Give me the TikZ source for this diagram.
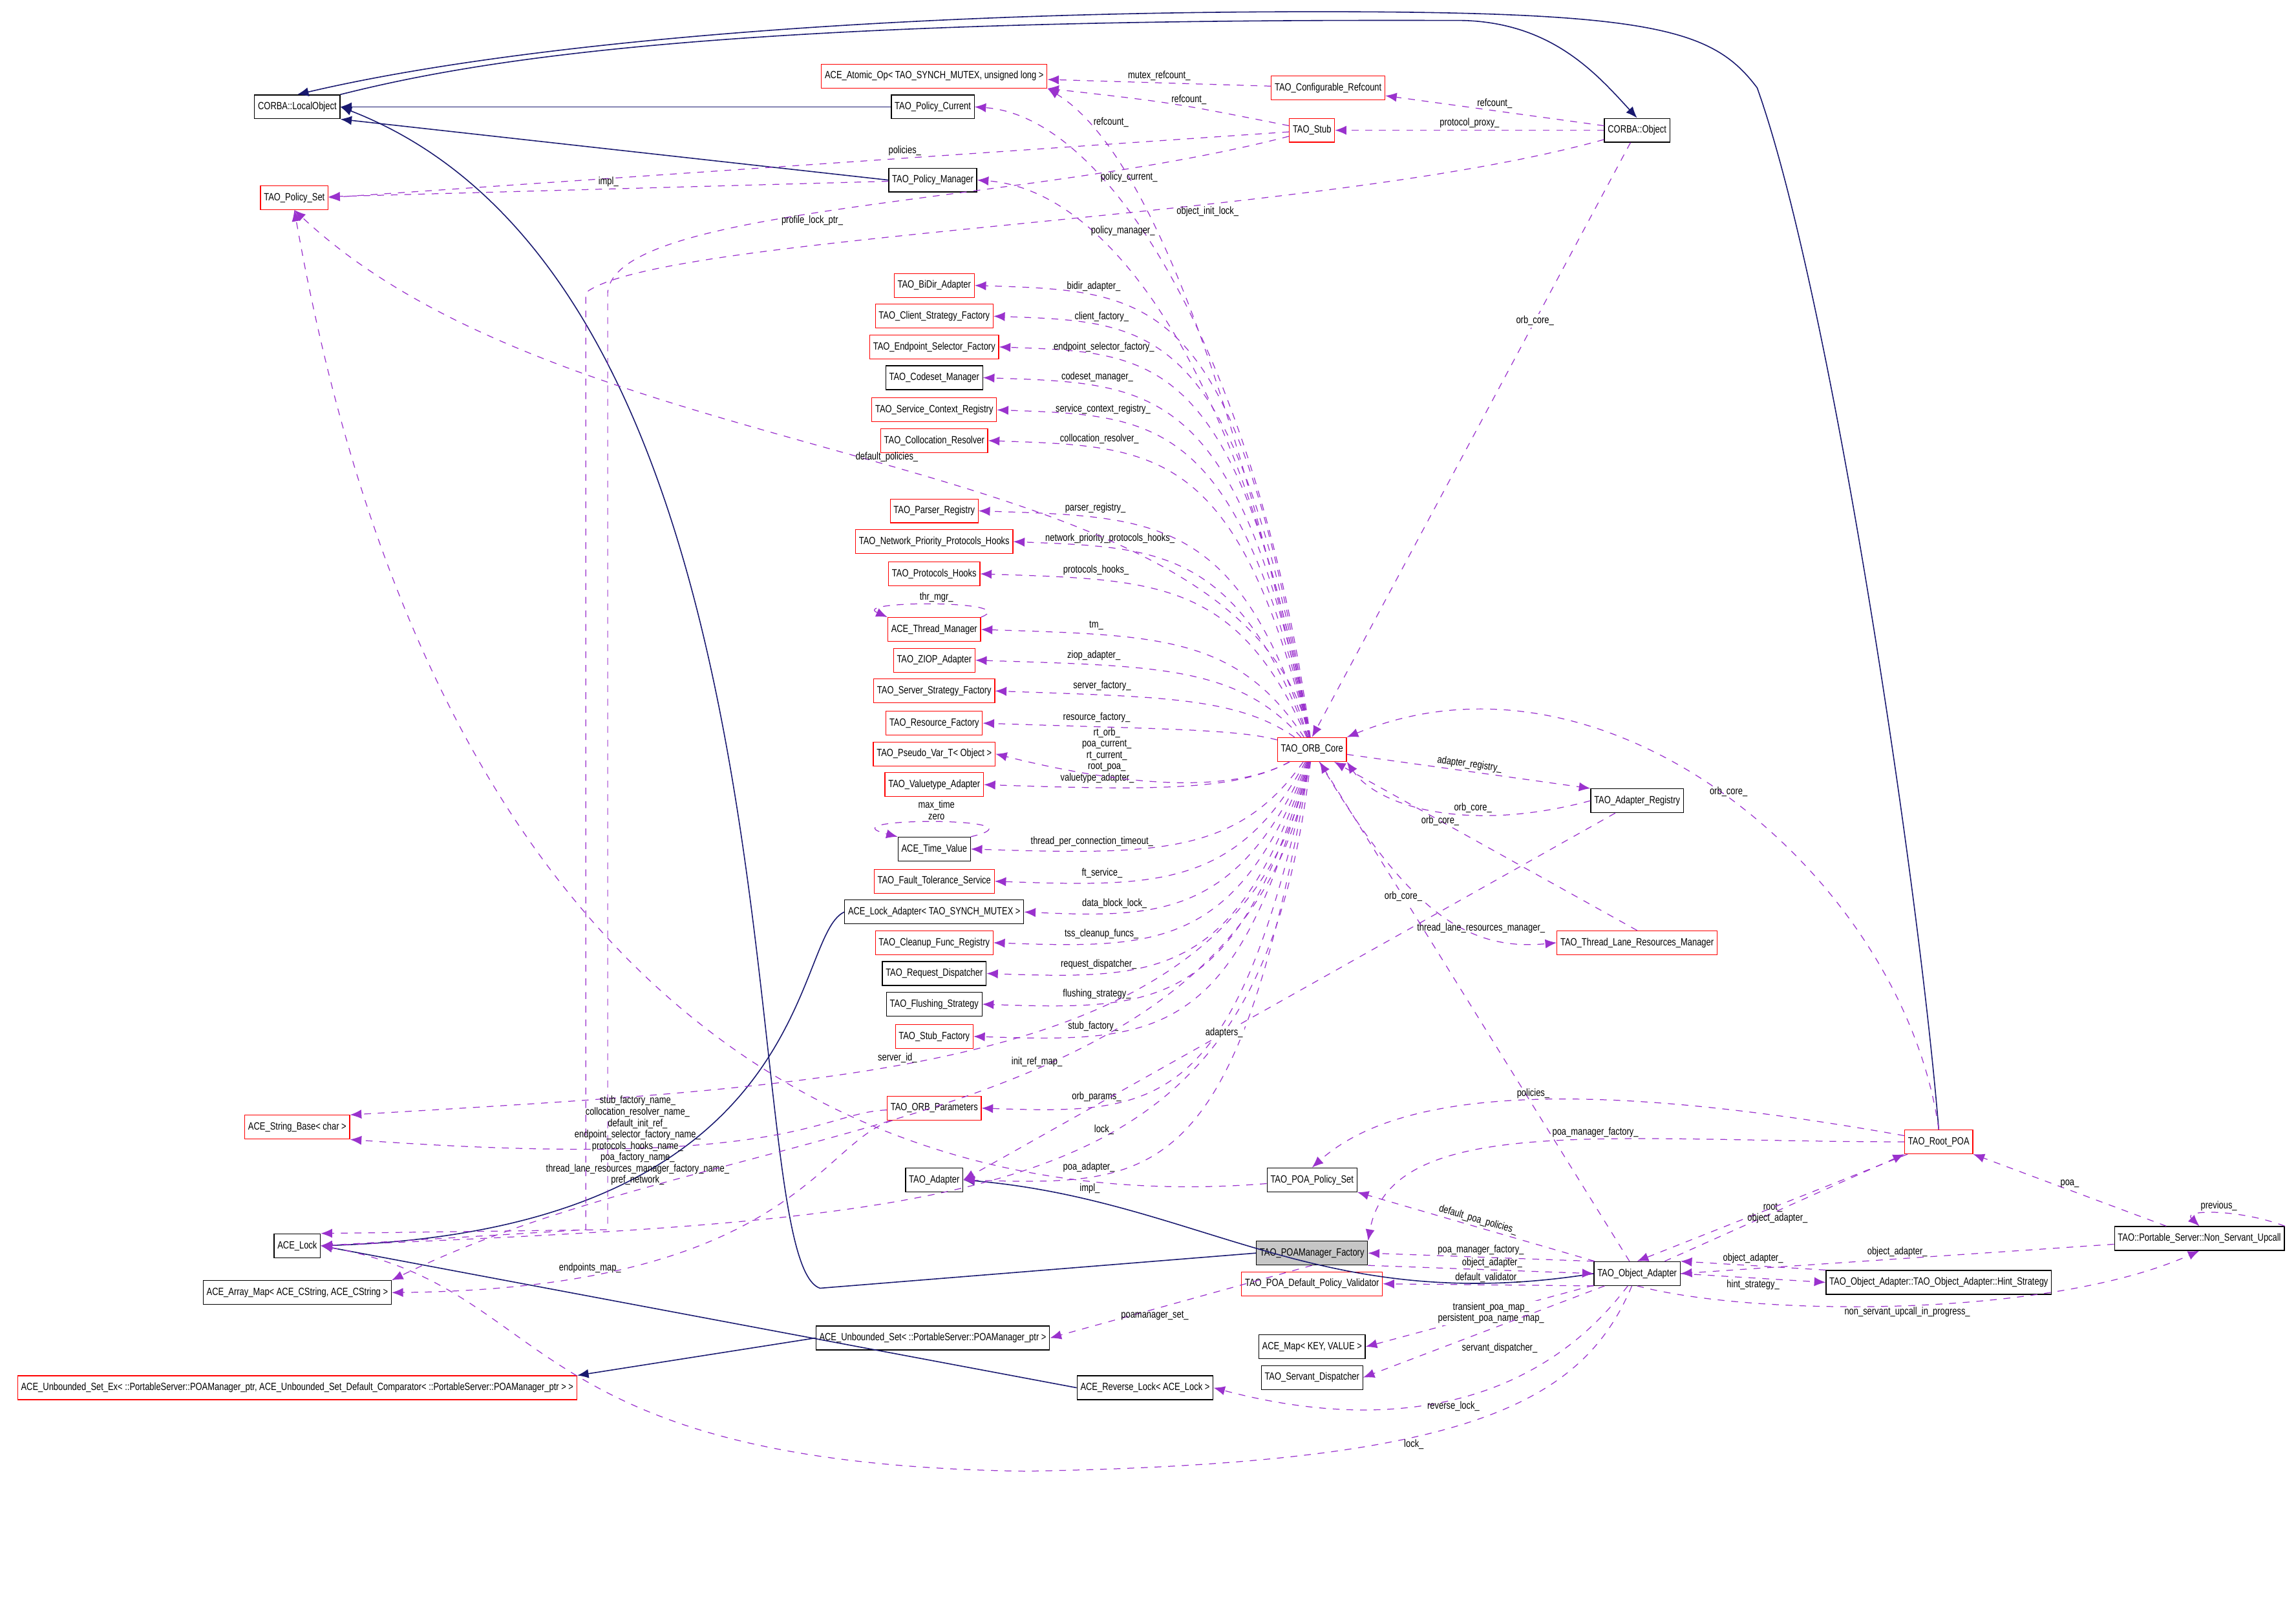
\documentclass[tikz,border=0pt]{standalone}
\usepackage{fontspec}
\setmainfont[FakeStretch=0.8]{Liberation Sans}
\usetikzlibrary{positioning,arrows.meta}
\definecolor{inhcol}{HTML}{191970}
\definecolor{usecol}{HTML}{9A32CD}
\tikzset{
  cls/.style={draw=black, rectangle, fill=white, font=\fontsize{4.6}{5}\selectfont, inner sep=1.5pt, minimum height=10.5, line width=0.35pt},
  rcls/.style={cls, draw=red},
  gcls/.style={cls, fill=gray!45},
  inh/.style={-{Latex[length=5pt,width=4pt]}, inhcol, line width=0.45pt},
  use/.style={-{Latex[length=5pt,width=4pt]}, usecol, dashed, line width=0.35pt},
  lbl/.style={font=\fontsize{4.6}{5}\selectfont, text=black, align=center, inner sep=0.8pt}
}
\begin{document}
\catcode`\_=12
\begin{tikzpicture}[x=0.02265cm, y=-0.02265cm]
\useasboundingbox (0,0) rectangle (1568,1093);
% left column
\node[cls] (localobj) at (203,73) {CORBA::LocalObject};
\node[rcls] (policyset) at (201,135) {TAO_Policy_Set};
\node[rcls] (stringbase) at (203,770) {ACE_String_Base< char >};
\node[cls] (acelock) at (203,851) {ACE_Lock};
\node[cls] (arraymap) at (203,883) {ACE_Array_Map< ACE_CString, ACE_CString >};
\node[rcls] (usetex) at (203,948) {ACE_Unbounded_Set_Ex< ::PortableServer::POAManager_ptr, ACE_Unbounded_Set_Default_Comparator< ::PortableServer::POAManager_ptr > >};
% top
\node[rcls] (atomicop) at (638,52) {ACE_Atomic_Op< TAO_SYNCH_MUTEX, unsigned long >};
\node[rcls] (cfgref) at (907,60) {TAO_Configurable_Refcount};
\node[cls] (policycur) at (637,73) {TAO_Policy_Current};
\node[rcls] (stub) at (896,89) {TAO_Stub};
\node[cls] (corbaobj) at (1118,89) {CORBA::Object};
\node[cls] (policymgr) at (637,123) {TAO_Policy_Manager};
% middle column
\foreach \n/\t/\s/\y in {
  bidir/{TAO_BiDir_Adapter}/rcls/195,
  clientsf/{TAO_Client_Strategy_Factory}/rcls/216,
  endpointsf/{TAO_Endpoint_Selector_Factory}/rcls/237,
  codeset/{TAO_Codeset_Manager}/cls/258,
  servicecr/{TAO_Service_Context_Registry}/rcls/280,
  collres/{TAO_Collocation_Resolver}/rcls/301,
  parserreg/{TAO_Parser_Registry}/rcls/349,
  netprio/{TAO_Network_Priority_Protocols_Hooks}/rcls/370,
  prothooks/{TAO_Protocols_Hooks}/rcls/392,
  thrmgr/{ACE_Thread_Manager}/rcls/430,
  ziop/{TAO_ZIOP_Adapter}/rcls/451,
  serversf/{TAO_Server_Strategy_Factory}/rcls/472,
  resfact/{TAO_Resource_Factory}/rcls/494,
  pseudovar/{TAO_Pseudo_Var_T< Object >}/rcls/515,
  valuetype/{TAO_Valuetype_Adapter}/rcls/536,
  timeval/{ACE_Time_Value}/cls/580,
  ftserv/{TAO_Fault_Tolerance_Service}/rcls/602,
  lockadapt/{ACE_Lock_Adapter< TAO_SYNCH_MUTEX >}/cls/623,
  cleanup/{TAO_Cleanup_Func_Registry}/rcls/644,
  reqdisp/{TAO_Request_Dispatcher}/cls/665,
  flushing/{TAO_Flushing_Strategy}/cls/686,
  stubfact/{TAO_Stub_Factory}/rcls/708,
  orbparams/{TAO_ORB_Parameters}/rcls/757,
  adapter/{TAO_Adapter}/cls/806}
  \node[\s] (\n) at (638,\y) {\t};
\node[cls] (unbset) at (637,914) {ACE_Unbounded_Set< ::PortableServer::POAManager_ptr >};
\node[cls] (revlock) at (782,948) {ACE_Reverse_Lock< ACE_Lock >};
% right part
\node[rcls] (orbcore) at (896,512) {TAO_ORB_Core};
\node[cls] (adaptreg) at (1118,547) {TAO_Adapter_Registry};
\node[rcls] (thrlane) at (1118,644) {TAO_Thread_Lane_Resources_Manager};
\node[cls] (poapolset) at (896,806) {TAO_POA_Policy_Set};
\node[gcls] (poamf) at (896,856) {TAO_POAManager_Factory};
\node[rcls] (defvalid) at (896,877) {TAO_POA_Default_Policy_Validator};
\node[cls] (acemap) at (896,920) {ACE_Map< KEY, VALUE >};
\node[cls] (servdisp) at (896,941) {TAO_Servant_Dispatcher};
\node[rcls] (rootpoa) at (1324,780) {TAO_Root_POA};
\node[cls] (objadapt) at (1118,870) {TAO_Object_Adapter};
\node[cls] (hint) at (1324,876) {TAO_Object_Adapter::TAO_Object_Adapter::Hint_Strategy};
\node[cls] (nsupcall) at (1502,846) {TAO::Portable_Server::Non_Servant_Upcall};
% inheritance
\draw[inh] (policycur) -- (localobj);
\draw[inh] (policymgr.west) -- (localobj.south east);
\draw[inh] (localobj.north east) .. controls (330,40) and (500,12) .. (1000,14) .. controls (1060,16) and (1090,50) .. (corbaobj.north);
\draw[inh] (rootpoa.north) .. controls (1310,600) and (1250,200) .. (1200,60) .. controls (1170,20) and (1130,8) .. (900,8) .. controls (600,8) and (350,30) .. (localobj.north);
\draw[inh] (poamf.west) -- (560,880) .. controls (500,860) and (560,200) .. (localobj.east);
\draw[inh] (lockadapt.west) .. controls (540,640) and (560,840) .. (acelock.east);
\draw[inh] (revlock.west) -- (acelock.east);
\draw[inh] (objadapt.west) .. controls (900,900) and (820,820) .. (adapter.east);
\draw[inh] (unbset.west) -- (usetex.north east);
% usage
\draw[use] (cfgref) -- node[lbl,above] {mutex_refcount_} (atomicop);
\draw[use] (stub) .. controls (800,70) .. node[lbl,above,pos=0.4] {refcount_} (atomicop.south east);
\draw[use] (corbaobj) -- node[lbl,above] {refcount_} (cfgref);
\draw[use] (corbaobj) -- node[lbl,above] {protocol_proxy_} (stub);
\draw[use] (stub) -- node[lbl,above,pos=0.4] {policies_} (policyset.east);
\draw[use] (orbcore) .. controls (840,250) and (780,100) .. node[lbl,pos=0.86,right=2pt] {refcount_} (atomicop.south east);
\draw[use] (policymgr) -- node[lbl,above] {impl_} (policyset);
\draw[use] (stub) .. controls (700,140) and (420,140) .. node[lbl,pos=0.55,below] {profile_lock_ptr_} (415,200) -- (415,840) -- (acelock.north east);
\draw[use] (orbcore) .. controls (860,250) and (760,80) .. node[lbl,pos=0.7,right] {policy_current_} (policycur.east);
\draw[use] (orbcore) .. controls (850,260) and (760,130) .. node[lbl,pos=0.72,right] {policy_manager_} (policymgr.east);
\draw[use] (corbaobj) .. controls (900,150) and (450,160) .. node[lbl,pos=0.35,below] {object_init_lock_} (400,200) -- (400,840) -- (acelock.east);
\draw[use] (corbaobj) -- node[lbl,pos=0.3,fill=white] {orb_core_} (orbcore.north);
\foreach \n/\t/\y in {bidir/bidir_adapter_/195, clientsf/client_factory_/216, endpointsf/endpoint_selector_factory_/237,
  codeset/codeset_manager_/258, servicecr/service_context_registry_/280, collres/collocation_resolver_/301,
  parserreg/parser_registry_/349, netprio/network_priority_protocols_hooks_/370, prothooks/protocols_hooks_/392,
  thrmgr/tm_/430, ziop/ziop_adapter_/451, serversf/server_factory_/472, resfact/resource_factory_/494,
  valuetype/valuetype_adapter_/536, timeval/thread_per_connection_timeout_/580, ftserv/ft_service_/602,
  lockadapt/data_block_lock_/623, cleanup/tss_cleanup_funcs_/644, reqdisp/request_dispatcher_/665,
  flushing/flushing_strategy_/686, stubfact/stub_factory_/708, orbparams/orb_params_/757, adapter/poa_adapter_/806}
  \draw[use] (orbcore) .. controls (845,\y+4) and (790,\y+4) .. node[lbl,pos=0.75,above=1pt] {\t} (\n.east);
\draw[use] (orbcore) .. controls (845,540) and (780,540) .. node[lbl,pos=0.72,above=1pt] {rt_orb_\\poa_current_\\rt_current_\\root_poa_} (pseudovar.east);
\draw[use] (orbcore) .. controls (850,300) and (400,330) .. node[lbl,pos=0.5,above] {default_policies_} (policyset.south);
\draw[use] (thrmgr.north east) .. controls (700,410) and (580,410) .. node[lbl,above] {thr_mgr_} (thrmgr.north west);
\draw[use] (timeval.north east) .. controls (720,558) and (560,558) .. node[lbl,above] {max_time\\zero} (timeval.north west);
\draw[use] (orbcore) .. controls (850,730) and (600,740) .. node[lbl,pos=0.6,above] {server_id_} (stringbase.north east);
\draw[use] (orbparams) .. controls (560,760) and (540,800) .. node[lbl,pos=0.55,left=2pt] {stub_factory_name_\\collocation_resolver_name_\\default_init_ref_\\endpoint_selector_factory_name_\\protocols_hooks_name_\\poa_factory_name_\\thread_lane_resources_manager_factory_name_\\pref_network_} (stringbase.south east);
\draw[use] (orbcore) .. controls (850,780) and (500,760) .. node[lbl,pos=0.42,above] {init_ref_map_} (arraymap.north east);
\draw[use] (orbparams) .. controls (560,780) and (540,880) .. node[lbl,pos=0.8,above] {endpoints_map_} (arraymap.east);
\draw[use] (orbcore) .. controls (860,820) and (700,830) .. node[lbl,pos=0.45,above] {lock_} (acelock.east);
\draw[use] (orbcore) -- node[lbl,above,sloped] {adapter_registry_} (adaptreg.north west);
\draw[use] (adaptreg.west) .. controls (1000,570) and (940,550) .. node[lbl,pos=0.35,above] {orb_core_} (orbcore.south east);
\draw[use] (orbcore) .. controls (960,620) and (1000,650) .. node[lbl,pos=0.7,above] {thread_lane_resources_manager_} (thrlane.west);
\draw[use] (thrlane.north) -- node[lbl,pos=0.65] {orb_core_} (orbcore);
\draw[use] (adaptreg) -- node[lbl,pos=0.6,fill=white] {adapters_} (adapter.east);
\draw[use] (rootpoa.north) .. controls (1300,600) and (1100,430) .. node[lbl,pos=0.5,above] {orb_core_} (orbcore.north east);
\draw[use] (objadapt) -- node[lbl,pos=0.73,fill=white] {orb_core_} (orbcore);
\draw[use] (rootpoa) .. controls (1100,740) and (960,740) .. node[lbl,pos=0.5,above] {policies_} (poapolset.north);
\draw[use] (rootpoa.west) .. controls (1100,780) and (950,760) .. node[lbl,pos=0.4,above] {poa_manager_factory_} (poamf.north east);
\draw[use] (poapolset) .. controls (600,830) and (300,700) .. node[lbl,pos=0.15,below] {impl_} (policyset.south);
\draw[use] (objadapt) -- node[lbl,pos=0.5,left] {root_} (rootpoa.south west);
\draw[use] (rootpoa) -- node[lbl,pos=0.6,right] {object_adapter_} (objadapt.north);
\draw[use] (objadapt) -- node[lbl,pos=0.5,above,sloped] {default_poa_policies_} (poapolset.south east);
\draw[use] (objadapt.north west) -- node[lbl,pos=0.5,above] {poa_manager_factory_} (poamf.east);
\draw[use] (poamf.south east) -- node[lbl,pos=0.55,above] {object_adapter_} (objadapt.west);
\draw[use] (objadapt.south west) -- node[lbl,pos=0.5,above] {default_validator_} (defvalid.east);
\draw[use] (objadapt) .. controls (1080,960) and (1000,1000) .. node[lbl,pos=0.6,below] {lock_} (700,1005) .. controls (350,1000) and (380,880) .. (acelock.east);
\draw[use] (objadapt) .. controls (1050,960) and (950,980) .. node[lbl,pos=0.5,below] {reverse_lock_} (revlock.east);
\draw[use] (objadapt) -- node[lbl,pos=0.45,fill=white] {transient_poa_map_\\persistent_poa_name_map_} (acemap.east);
\draw[use] (objadapt) -- node[lbl,pos=0.6,below right] {servant_dispatcher_} (servdisp.east);
\draw[use] (objadapt.east) -- node[lbl,pos=0.5,below] {hint_strategy_} (hint.west);
\draw[use] (hint.north west) -- node[lbl,pos=0.5,above] {object_adapter_} (objadapt.north east);
\draw[use] (nsupcall) -- node[lbl,pos=0.5,above] {object_adapter_} (objadapt.east);
\draw[use] (objadapt.south) .. controls (1200,900) and (1400,900) .. node[lbl,pos=0.5,below] {non_servant_upcall_in_progress_} (nsupcall.south);
\draw[use] (nsupcall) -- node[lbl,pos=0.5,above] {poa_} (rootpoa.south east);
\draw[use] (nsupcall.north east) .. controls (1530,826) and (1490,826) .. node[lbl,above] {previous_} (nsupcall.north);
\draw[use] (poamf.south) -- node[lbl,pos=0.6,below] {poamanager_set_} (unbset.east);
\end{tikzpicture}
\end{document}
